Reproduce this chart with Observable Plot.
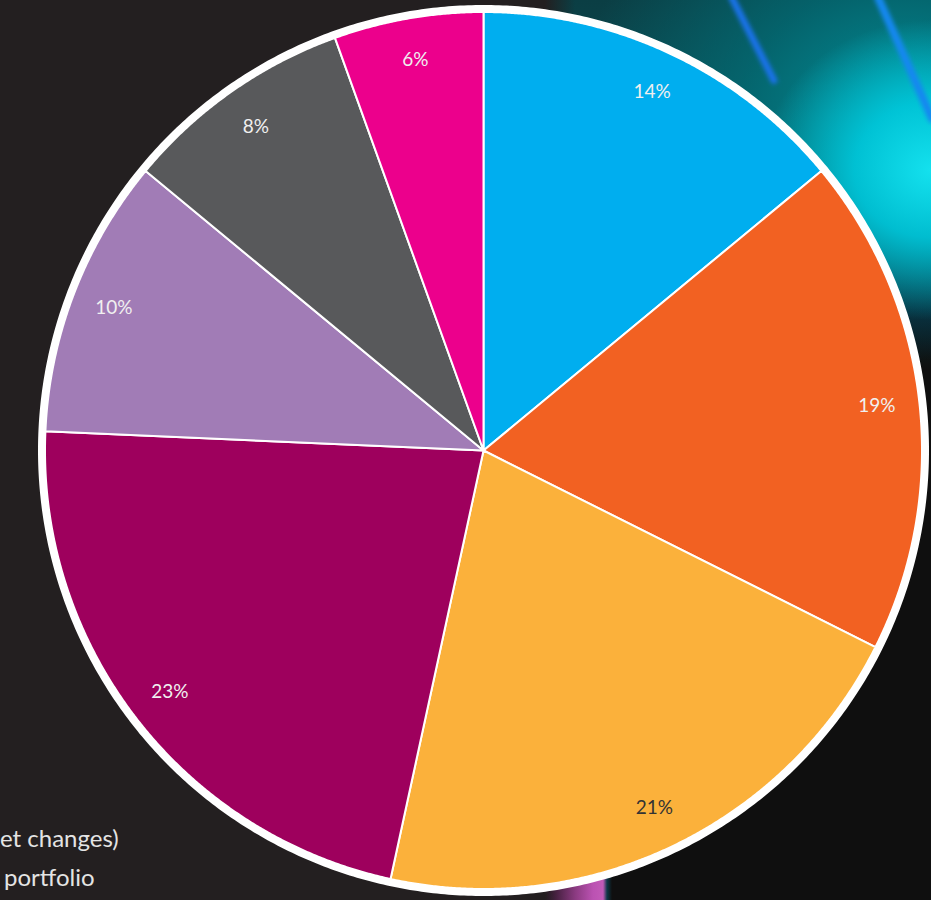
<!DOCTYPE html>
<html>
<head>
<meta charset="utf-8">
<script src="https://cdn.jsdelivr.net/npm/d3@7"></script>
<script src="https://cdn.jsdelivr.net/npm/@observablehq/plot@0.6"></script>
<style>
  html, body { margin: 0; padding: 0; }
  body { width: 931px; height: 900px; overflow: hidden; background: #231f20; position: relative; font-family: Lato, "Open Sans", sans-serif; }
  #photo { position: absolute; left: 545px; top: 0; width: 386px; height: 900px;
    background:
      linear-gradient(to right, #231f20 0px, rgba(35,31,32,0) 30px),
      radial-gradient(ellipse 170px 150px at 386px 170px, rgba(20,225,238,1) 0%, rgba(0,205,225,0.85) 45%, rgba(0,170,200,0) 100%),
      radial-gradient(ellipse 330px 260px at 360px 110px, rgba(0,150,160,0.9) 0%, rgba(0,120,130,0.6) 50%, rgba(0,90,100,0) 100%),
      linear-gradient(to bottom, #0b3e44 0px, #0b4a50 120px, #093844 230px, #0a1a2a 310px, #0f0f0f 360px, #0f0f0f 100%);
  }
  .streak { position: absolute; background: #1a72e8; filter: blur(2px); transform-origin: top left; border-radius: 4px; }
  #pinkstrip { position: absolute; left: 545px; top: 850px; width: 70px; height: 50px;
    background: linear-gradient(to right, rgba(35,31,32,0) 0px, #4a2244 12px, #8a3a80 30px, #bb52b2 48px, #c25ab8 58px, #0e3848 62px, #0f0f0f 67px); }
  .note { position: absolute; color: #e4e4e4; font-size: 24px; line-height: 24px; white-space: nowrap; font-family: Lato, sans-serif; }
  #chart { position: absolute; left: 0; top: 0; }
</style>
</head>
<body>
<div id="photo"></div>
<div class="streak" style="left:727px; top:-4px; width:7px; height:100px; transform: rotate(-27deg);"></div>
<div class="streak" style="left:873px; top:-4px; width:8px; height:140px; transform: rotate(-24deg); background:#1588f0;"></div>
<div id="pinkstrip"></div>
<div class="note" style="left:0px; top:826px;">et changes)</div>
<div class="note" style="left:4px; top:865px;">portfolio</div>
<div id="chart"></div>
<script>
// Slice labels as printed on the chart (clockwise from 12 o'clock)
const labels = ["14%", "19%", "21%", "23%", "10%", "8%", "6%"];
// Slice sizes as drawn (share of the full circle, %)
const shares = [14.0, 18.4, 21.0, 22.3, 10.3, 8.5, 5.5];
const colors = ["#00AEEF", "#F26122", "#FBB13B", "#9E005D", "#A17CB6", "#58595B", "#EC008C"];
const labelColors = ["#f0f0f0", "#f0f0f0", "#333333", "#f0f0f0", "#f0f0f0", "#f0f0f0", "#f0f0f0"];

const W = 931, H = 900;
const cx = 483, cy = 450;
const R = 438.5, ringR = 442, labelR = 396;

const arcs = d3.pie().sort(null).value(d => d)(shares);

function slicePoints(a, i) {
  const n = Math.max(4, Math.ceil((a.endAngle - a.startAngle) / 0.004));
  const pts = [{i, x: 0, y: 0}];
  for (let k = 0; k <= n; k++) {
    const ang = a.startAngle + (a.endAngle - a.startAngle) * k / n;
    pts.push({i, x: R * Math.sin(ang), y: R * Math.cos(ang)});
  }
  pts.push({i, x: 0, y: 0});
  return pts;
}

const ring = d3.range(0, 721).map(k => {
  const ang = k / 720 * 2 * Math.PI;
  return {x: ringR * Math.sin(ang), y: ringR * Math.cos(ang)};
});

const labelData = arcs.map((a, i) => {
  const mid = (a.startAngle + a.endAngle) / 2;
  return {x: labelR * Math.sin(mid), y: labelR * Math.cos(mid), label: labels[i], color: labelColors[i]};
});

const marks = arcs.map((a, i) => Plot.line(slicePoints(a, i), {
  x: "x", y: "y", fill: colors[i], stroke: "white", strokeWidth: 2, strokeLinejoin: "round"
}));
marks.push(Plot.line(ring, {x: "x", y: "y", stroke: "white", strokeWidth: 7}));
marks.push(Plot.text(labelData, {
  x: "x", y: "y", text: "label", fill: "color", fontSize: 19, fontFamily: "Lato, sans-serif"
}));

const chart = Plot.plot({
  width: W, height: H, margin: 0,
  x: {domain: [-cx, W - cx], axis: null},
  y: {domain: [-(H - cy), cy], axis: null},
  color: {type: "identity"},
  style: {background: "transparent", overflow: "visible"},
  marks
});
document.getElementById("chart").appendChild(chart);
</script>
</body>
</html>
